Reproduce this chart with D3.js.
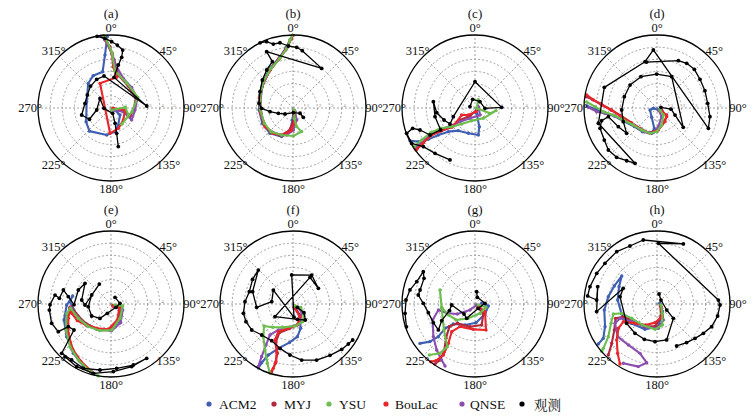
<!DOCTYPE html>
<html><head><meta charset="utf-8">
<script src="https://cdn.jsdelivr.net/npm/d3@7"></script>
<style>body{margin:0;background:#fff}</style></head>
<body><svg id="c" width="754" height="416"></svg>
<script>
// ---------- data: [direction (deg), speed] per point, one list per panel (a..h) ----------
const panels = ["(a)","(b)","(c)","(d)","(e)","(f)","(g)","(h)"];
const angleTicks = [0,45,90,135,180,225,270,315];
const radialTicks = [1,2,3,4,5];
const seriesNames = ["ACM2","MYJ","YSU","BouLac","QNSE","观测"];

const ACM2 = [
 [[117,0.37],[128,0.94],[157,1.52],[170,1.97],[189,2.25],[223,2.6],[241,2.34],[285,2.07],[317,2.75],[331,3.03],[347,3.06],[353.5,4.38],[357,5.87]],
 [[166,0.23],[183,1.0],[187,1.96],[201.6,2.53],[222.2,2.81],[243.4,2.82],[266.6,2.8],[291.3,2.94],[311,3.3],[330,3.77],[345,4.3],[353.5,5.0],[357.8,5.65],[359.5,5.97]],
 [[163,0.46],[167,1.58],[173,2.24],[194.7,2.15],[216.3,2.31],[228.4,2.93],[233.6,3.74],[236.1,4.62],[239.3,5.42],[243.2,5.98]],
 [[146,0.2],[265,0.3],[254,0.6],[209.7,0.88],[187.5,1.69],[191.9,2.13],[211.8,2.29],[230.5,2.41],[247.3,2.91],[259.4,3.57],[264.9,4.29],[268.8,5.04],[271.6,5.76]],
 [[131,0.25],[112,0.95],[154.7,1.6],[182.3,2.08],[209.5,2.39],[233.4,2.66],[255,2.98],[273.3,3.38],[281.8,3.22],[268.7,3.64],[251.2,4.08],[233.6,4.53],[217.4,5.1],[204,5.58],[192.9,5.9]],
 [[163,0.29],[150,1.04],[162.5,2.1],[172.4,2.71],[185.4,3.19],[198.3,3.84],[205.8,4.66],[208.1,5.47],[208.3,5.98]],
 [[84,0.55],[98.5,1.11],[135,1.16],[176.9,1.54],[205.5,1.91],[227.3,2.42],[230.9,3.17],[228.3,4.04],[230.1,4.82],[234.4,5.56]],
 [[77,0.25],[145.2,0.77],[176.6,1.87],[205.3,2.3],[233.4,2.66],[254.2,3.02],[275.8,3.25],[294.5,3.43],[308.4,3.7],[292.9,3.81],[278.6,4.05],[263.5,4.36],[246.4,4.66],[237.4,5.24],[235.7,5.84]]
];
const MYJ = [
 [[129,0.18],[101.6,1.09],[114.5,1.72],[95,1.84],[68.9,2.2],[38,2.3],[12.5,2.78],[3.6,3.95],[359,5.04],[354,5.95]],
 [[162,0.26],[177,1.04],[190,1.92],[205,2.48],[221.7,2.71],[241.4,2.74],[265.4,2.72],[288.8,2.9],[310.2,3.22],[329.6,3.68],[344.6,4.23],[353.6,4.92],[358,5.64],[359.7,5.97]],
 [[140,0.21],[212,0.78],[231.3,1.58],[230.4,2.49],[236.2,3.4],[238.3,4.28],[236,5.19],[234.6,5.95]],
 [[113,0.42],[131.9,1.07],[161.6,1.39],[180.8,1.86],[199.4,2.15],[219.9,2.18],[241.1,2.44],[257.5,3.03],[267.5,3.78],[274.1,4.61],[277.6,5.36],[279.1,5.88]],
 [[120,0.22],[104.9,0.85],[153.4,1.41],[182.2,2.14],[206.6,2.33],[230.6,2.59],[250,2.89],[266.2,3.29],[255.9,3.7],[237.6,4.25],[221.3,4.85],[208.7,5.31],[197.5,5.75]],
 [[158,0.29],[147.4,1.17],[165,1.7],[188.5,2.05],[205.5,2.61],[204.3,3.4],[197.6,4.25],[196.6,5.09],[197.5,5.83]],
 [[138.8,0.29],[140.2,1.07],[162.4,1.81],[192.4,1.91],[222.4,2.15],[228.6,2.81],[220.2,3.69],[213,4.67],[212,5.43],[213.7,5.93]],
 [[121,0.32],[161.6,1.04],[183.5,1.81],[209.2,2.13],[234.8,2.38],[249.4,2.96],[250.9,3.6],[238.6,4.11],[229,4.93],[223.7,5.79]]
];
const YSU = [
 [[162,0.18],[87,1.17],[112,1.56],[146,1.6],[100,1.75],[68,2.37],[32,2.43],[6,3.05],[1,4.56],[356,5.68],[354,6.0]],
 [[146,0.2],[172.6,0.86],[169,1.56],[160,2.07],[179.3,2.3],[202.8,2.41],[222.9,2.66],[241.9,2.67],[266.5,2.69],[291.7,2.89],[311.6,3.26],[331,3.73],[345.3,4.22],[354,4.93],[357.5,5.6],[359.5,5.97]],
 [[21,0.74],[101,0.14],[109.6,1.31],[97.2,1.74],[141,1.09],[194.7,1.08],[219.8,1.71],[231.3,2.46],[239.4,3.28],[240.9,4.17],[239,5.11],[237.6,5.94]],
 [[124,0.3],[137.9,0.78],[164.7,1.45],[180.8,1.95],[195.4,2.16],[214.9,2.2],[234.3,2.4],[250.4,2.94],[260.9,3.63],[266.1,4.42],[271.2,5.1],[274.9,5.8]],
 [[104,0.34],[99.7,0.97],[147.9,1.39],[178.5,2.14],[202.4,2.37],[225,2.63],[246.3,2.93],[263.9,3.33],[258.1,3.72],[240,4.27],[223.9,4.86],[210.3,5.33],[199,5.74],[190,6.0]],
 [[135,0.23],[113.5,0.69],[135,1.28],[151.3,1.66],[174.8,1.82],[202.5,2.08],[221.1,2.54],[232.8,2.99],[222.2,3.63],[211.3,4.43],[203.4,5.31],[198.7,5.98]],
 [[106.7,0.29],[106.9,0.94],[151.8,0.87],[205,1.3],[229.9,2.04],[247.6,2.37],[264.3,2.75],[291.8,3.1],[262.6,2.76],[230,3.33],[213,4.18],[215.4,4.97],[221.8,5.63]],
 [[104,0.34],[150.3,0.88],[165.7,1.78],[184.5,2.09],[214.9,2.1],[240.5,2.39],[255.2,3.0],[257.1,3.68],[247.2,4.1],[236.1,4.82],[230.4,5.72],[229.5,5.98]]
];
const BouLac = [
 [[98,0.19],[98,1.16],[134,1.41],[160,1.78],[182,2.08],[336,2.22],[10.5,2.56],[3,3.4],[1,4.5],[356,5.6],[354,5.95]],
 [[153,0.25],[171.7,1.13],[185,1.87],[199.7,2.36],[217.8,2.64],[236.3,2.77],[260.5,2.67],[286.3,2.83],[308.4,3.18],[329,3.64],[344,4.2],[353.5,4.88],[358.3,5.64],[359.7,5.97]],
 [[165,0.31],[223.6,0.79],[242.3,1.24],[230.3,2.31],[235.8,3.31],[238,4.2],[236.1,5.11],[234.7,5.88]],
 [[132.5,0.44],[126,0.98],[149.6,1.3],[176.5,1.81],[195.4,2.16],[216.9,2.19],[238.8,2.43],[256.2,2.99],[267.5,3.73],[273.1,4.55],[277.2,5.27],[280.5,5.88]],
 [[140,0.22],[111.8,0.74],[158.4,1.41],[186,2.09],[210.5,2.32],[230,2.68],[243.7,3.09],[256.7,3.32],[264,3.39],[251.4,3.7],[235.5,4.26],[220.2,4.88],[207.5,5.34],[196,5.78]],
 [[160,0.23],[151,1.19],[168.3,1.76],[190.9,2.04],[207.9,2.57],[206.6,3.31],[198.9,4.14],[196.4,4.94],[197,5.53],[198.2,5.98]],
 [[121,0.32],[127.5,1.04],[157.1,2.32],[183.8,2.09],[213.5,2.23],[220.1,2.97],[214.1,3.9],[211.8,4.93],[214.5,5.65],[217.5,5.98]],
 [[123.7,0.4],[157.2,1.13],[186.1,1.54],[208.4,1.96],[228.7,2.41],[242.3,3.12],[237.8,3.75],[228.2,4.44],[218.6,5.19],[211.7,5.79]]
];
const QNSE = [
 [[131,0.25],[107,1.06],[120,1.96],[95,1.98],[70,2.3],[45,2.4],[22.6,2.64],[7.8,3.43],[0.7,4.49],[355,5.6],[352,5.98]],
 [[151,0.35],[163,1.03],[179,1.81],[193,2.28],[212,2.52],[232.3,2.73],[254.5,2.67],[281,2.73],[304.8,3.07],[326.6,3.58],[343,4.13],[352.8,4.8],[358.3,5.64],[0.3,5.97]],
 [[68,0.3],[144.5,0.71],[205.8,0.94],[227.7,1.67],[234.2,2.53],[238.3,3.44],[239,4.31],[237.7,5.18],[236,5.94]],
 [[143,0.27],[151.7,0.81],[176,1.54],[188.5,2.05],[208.2,2.21],[230.7,2.34],[249.4,2.81],[259.2,3.51],[264.1,4.3],[266.5,4.97],[270.6,5.64]],
 [[132,0.33],[117,1.08],[152.6,1.73],[178.6,2.19],[204.2,2.34],[227.1,2.66],[248.4,2.98],[265.4,3.38],[254,3.79],[236.5,4.37],[220.9,4.93],[208.3,5.38],[196.7,5.81]],
 [[140,0.21],[131.5,0.95],[160.1,1.69],[187.3,1.93],[209.4,2.45],[216.6,3.17],[213.4,4.03],[210.8,5.04],[209,5.89]],
 [[121,0.16],[219.8,0.64],[240.5,1.67],[251.4,2.4],[260.7,3.05],[249.3,3.72],[231.9,4.35],[219.8,4.92],[210.8,5.36],[205.8,5.66]],
 [[132.9,0.52],[158.4,1.41],[176.9,2.0],[203.9,2.1],[233.3,2.43],[248.8,3.26],[245.3,3.8],[230.3,4.2],[215,4.11],[199,4.29],[190,4.9],[196.6,5.37],[209.6,5.6]]
];
const OBS = [
 [[349,6.0],[355,5.75],[0.6,5.45],[5.7,5.2],[11.4,4.86],[11.9,4.26],[9.7,3.59],[5.6,2.53],[86.8,2.94],[347.7,2.69],[333.4,2.63],[317,2.46],[298.8,2.22],[279.8,2.17],[256.6,2.48],[242.4,2.0],[262,1.19],[311,1.2],[267,0.58],[163,0.46],[165,1.3],[167.4,2.13],[169.3,3.23]],
 [[333.2,6.0],[338.3,5.87],[342.9,5.5],[348.7,5.47],[355.7,5.11],[3.5,5.0],[9.2,4.77],[35.9,4.02],[334.9,5.11],[336,4.17],[325.3,3.8],[312.4,3.41],[296.3,3.03],[277.8,2.82],[269.4,2.58],[260.9,1.91],[250,1.28],[233,0.82],[176,0.38],[127,0.72],[132,1.14]],
 [[285,0.43],[345,0.74],[38,0.66],[92,0.82],[88.6,2.19],[0,2.16],[248.2,1.92],[237.4,2.44],[248.8,2.73],[263,3.17],[278.6,3.46],[257.8,3.36],[237.4,3.35],[239,4.31],[248.2,4.87],[251.9,5.39],[249.7,5.99],[240.8,5.96],[233.2,5.3],[221.4,4.97],[205.7,4.74]],
 [[80.5,0.33],[94.6,1.16],[111.3,1.59],[126.3,2.68],[25.1,2.84],[359.4,2.79],[332.9,2.89],[310.4,2.91],[289.1,2.84],[266.8,2.91],[247.9,2.99],[230.1,3.25],[244.2,3.53],[259.9,4.06],[257.1,4.67],[250.4,4.97],[238.7,5.07],[229.2,5.28],[219.3,5.24],[209.9,5.0],[201.7,4.89],[255.4,4.98],[291.4,4.65],[345.5,3.93],[356.4,4.78],[111.6,4.54],[99.3,4.41],[84.7,4.18],[70.1,4.19],[56.3,4.25],[44,4.42],[33.6,4.41],[24.3,4.27],[347.3,3.87]],
 [[31,0.64],[85.8,0.74],[123.7,0.49],[201.4,0.82],[217.5,1.49],[238.2,1.87],[263.3,1.88],[295,1.75],[329.7,1.9],[267.8,2.14],[277.8,2.43],[308.5,2.73],[293.2,2.92],[269,3.04],[279.8,3.56],[286.4,4.08],[276.3,4.27],[279.1,4.66],[269.4,5.01],[264.4,5.09],[252,5.13],[242.3,4.89],[242,3.97],[234.9,3.72],[225,5.73],[215.1,5.62],[203.3,5.76],[189.5,5.5],[175,5.31],[159.9,5.34],[146.7,5.34],[161.7,5.42],[178,5.56],[194.3,5.88],[208.7,5.87],[221.1,5.75]],
 [[127.6,0.45],[128.2,1.15],[142.4,1.66],[164.2,1.31],[234.9,1.81],[32.5,2.6],[58.3,2.45],[32.8,2.83],[357.4,2.39],[175.7,1.1],[305.4,1.98],[276.2,1.76],[264.8,3.0],[287,3.47],[314.4,3.99],[301.4,3.89],[285.8,3.73],[272.8,3.95],[259.4,4.15],[249.4,4.13],[237.8,4.01],[225.3,3.62],[210.2,3.49],[196.3,3.8],[183.4,4.2],[171.2,4.66],[157.1,5.0],[144.2,5.2],[133,5.47],[125.9,5.61],[121.1,5.73]],
 [[7.7,1.02],[19.3,0.58],[86.2,0.82],[142.4,0.45],[210.2,1.36],[227.7,1.22],[267.5,1.92],[255.4,2.18],[243.4,3.06],[234.7,3.69],[245.9,3.75],[259.5,3.9],[270.7,4.25],[279,4.72],[284.3,4.66],[296.7,4.69],[302,5.01],[291,5.13],[282.2,5.47],[273.3,5.68],[262.4,5.8],[251.6,5.94]],
 [[11.3,0.84],[45,0.46],[121.8,0.94],[131.3,1.79],[165,3.06],[183,3.1],[199.7,3.08],[216.9,3.01],[237.5,2.96],[281.2,3.1],[294.9,3.06],[262.8,5.0],[286.3,5.08],[273.8,4.97],[276.6,5.74],[284.5,5.69],[297,5.56],[308,5.43],[322.4,5.43],[335,5.26],[347.9,5.38],[23.7,5.39],[1.3,4.99],[86.3,5.05],[90.9,5.18],[101.2,5.08],[112.5,4.86],[122.3,4.51],[132.1,4.21],[142.5,4.0],[154.9,3.81]]
];

// ---------- drawing ----------
const seriesData = {ACM2, MYJ, YSU, BouLac, QNSE, "观测": OBS};
const colors = {ACM2:"#3f5fb3", MYJ:"#b0283c", YSU:"#6cbd4e", BouLac:"#e8262b", QNSE:"#8a4fae", "观测":"#000000"};
const drawOrder = ["ACM2","MYJ","QNSE","BouLac","YSU","观测"];
const serif = "'Liberation Serif','Times New Roman',serif";

const svg = d3.select("#c");
const R = 73;
const rScale = d3.scaleLinear().domain([0,6]).range([0,R]);
const aScale = d3.scaleLinear().domain([0,360]).range([0,2*Math.PI]);
const cx = d3.scalePoint().domain([0,1,2,3]).range([111,657]);
const cy = d3.scalePoint().domain([0,1]).range([108,304]);
const line = d3.lineRadial().angle(d=>aScale(d[0])).radius(d=>rScale(d[1]));

panels.forEach((name, p) => {
  const g = svg.append("g").attr("transform", `translate(${cx(p%4)},${cy(Math.floor(p/4))})`);
  g.selectAll(".ring").data(radialTicks).join("circle")
    .attr("r", d=>rScale(d)).attr("fill","none")
    .attr("stroke","#8c8c8c").attr("stroke-width",0.8).attr("stroke-dasharray","2,2");
  g.selectAll(".spoke").data(angleTicks).join("line")
    .attr("x1",0).attr("y1",0)
    .attr("x2", d=>d3.pointRadial(aScale(d), R)[0])
    .attr("y2", d=>d3.pointRadial(aScale(d), R)[1])
    .attr("stroke","#8c8c8c").attr("stroke-width",0.8).attr("stroke-dasharray","2,2");
  g.selectAll(".rt").data(radialTicks).join("text")
    .attr("x", d=>rScale(d)+1.5).attr("y",-1.5)
    .attr("font-size",5).attr("fill","#8a8a8a").attr("font-family",serif).text(d=>d);
  drawOrder.forEach(s => {
    const pts = seriesData[s][p];
    const isObs = s==="观测";
    g.append("path").attr("d", line(pts)).attr("fill","none")
      .attr("stroke", colors[s]).attr("stroke-width", isObs?1.3:2.1).attr("stroke-linejoin","round");
    g.selectAll(null).data(pts).join("circle")
      .attr("cx", d=>d3.pointRadial(aScale(d[0]), rScale(d[1]))[0])
      .attr("cy", d=>d3.pointRadial(aScale(d[0]), rScale(d[1]))[1])
      .attr("r", isObs?1.9:1.7).attr("fill", colors[s]);
  });
  g.append("circle").attr("r",R).attr("fill","none").attr("stroke","#000").attr("stroke-width",1.3);
  g.selectAll(".al").data(angleTicks).join("text")
    .attr("x", d=>d3.pointRadial(aScale(d), 81)[0])
    .attr("y", d=>d3.pointRadial(aScale(d), 81)[1] + (d===0 ? 1 : 0))
    .attr("text-anchor","middle").attr("dominant-baseline","central")
    .attr("font-family",serif).attr("font-size",12.5).attr("fill","#111")
    .text(d=>d+"°");
  g.append("text").attr("x",0).attr("y",-95).attr("text-anchor","middle")
    .attr("dominant-baseline","central").attr("font-family",serif).attr("font-size",13)
    .attr("fill","#111").text(name);
});

// legend
const legendX = [209,274,329,386,462,522];
const legendTextDx = [10,10,10,9,8,12];
const lg = svg.append("g");
seriesNames.forEach((s,i) => {
  lg.append("circle").attr("cx",legendX[i]).attr("cy",404).attr("r",2.6).attr("fill",colors[s]);
  lg.append("text").attr("x",legendX[i]+legendTextDx[i]).attr("y",404)
    .attr("dominant-baseline","central")
    .attr("font-family", s==="观测" ? "'Noto Serif CJK SC','Noto Sans CJK SC',serif" : serif)
    .attr("font-size",13.5).attr("fill","#111").text(s);
});
</script>
</body></html>
